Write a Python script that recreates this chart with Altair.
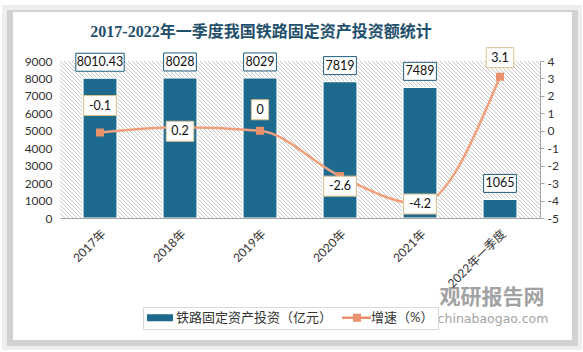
import altair as alt
import pandas as pd

# ---------------- data ----------------
categories = ["2017年", "2018年", "2019年", "2020年", "2021年", "2022年一季度"]
investment = [8010.43, 8028, 8029, 7819, 7489, 1065]          # 亿元
growth = [-0.1, 0.2, 0, -2.6, -4.2, 3.1]                       # %
left_ticks = [0, 1000, 2000, 3000, 4000, 5000, 6000, 7000, 8000, 9000]
right_ticks = [-5, -4, -3, -2, -1, 0, 1, 2, 3, 4]
series_names = ["铁路固定资产投资（亿元）", "增速（%）"]
title_text = "2017-2022年一季度我国铁路固定资产投资额统计"
watermark_cn = "观研报告网"
watermark_en = "chinabaogao.com"

# ---------------- layout / style ----------------
W, H = 480, 157
LEFT_DOMAIN = [0, 9000]
RIGHT_DOMAIN = [-5, 4]
growth_label_nudge = [-27, 4, -21, 10, 0, -19]   # px, label offset from point
BAR = "#1e6a8e"
LINE = "#f0a07c"
MARKER = "#e8916c"
FONT = "Lato, Noto Sans CJK SC, sans-serif"
TXT = "#333333"


def fmt(v):
    return f"{v:g}"


def box_path(text, h):
    w = 5.2 * len(text) + 12
    return f"M{-w/2:.1f},{-h/2}H{w/2:.1f}V{h/2}H{-w/2:.1f}Z"


bar_df = pd.DataFrame({"cat": categories, "value": investment})
bar_df["label"] = [fmt(v) for v in investment]
bar_df["box"] = [box_path(t, 18) for t in bar_df["label"]]

px_per_unit = H / (RIGHT_DOMAIN[1] - RIGHT_DOMAIN[0])
line_df = pd.DataFrame({"cat": categories, "value": growth})
line_df["label"] = [fmt(v) for v in growth]
line_df["label_y"] = [g - n / px_per_unit for g, n in zip(growth, growth_label_nudge)]
line_df["box"] = [box_path(t, 20) for t in line_df["label"]]

one = pd.DataFrame({"d": [0]})

x_enc = alt.X(
    "cat:N", sort=categories,
    scale=alt.Scale(paddingInner=0.575, paddingOuter=0.2875),
    axis=alt.Axis(title=None, labelAngle=-45, ticks=False, domainColor="#a6a6a6",
                  labelFontSize=12, labelPadding=10, labelColor=TXT, labelFont=FONT,
                  grid=False, zindex=1),
)

left_axis = alt.Axis(orient="left", values=left_ticks, title=None, domain=False, ticks=False,
                     grid=False, labelPadding=8, labelFontSize=12, labelColor=TXT, labelFont=FONT,
                     labelExpr="'' + datum.value", zindex=1)
right_axis = alt.Axis(orient="right", values=right_ticks, title=None, domainColor="#a6a6a6",
                      tickColor="#a6a6a6", tickSize=4, grid=False, labelPadding=3,
                      labelFontSize=12, labelColor=TXT, labelFont=FONT,
                      labelExpr="'' + datum.value", zindex=1)
left_scale = alt.Scale(domain=LEFT_DOMAIN, nice=False)
right_scale = alt.Scale(domain=RIGHT_DOMAIN, nice=False)

# ---------------- decoration: card with shadow ----------------
shadow_outer = alt.Chart(one).mark_rect(color="#eeeeee").encode(
    x=alt.value(-58), x2=alt.value(522), y=alt.value(-56), y2=alt.value(289))
shadow_inner = alt.Chart(one).mark_rect(color="#d2d2d2").encode(
    x=alt.value(-53), x2=alt.value(518), y=alt.value(-51), y2=alt.value(285))
card = alt.Chart(one).mark_rect(color="#ffffff").encode(
    x=alt.value(-47), x2=alt.value(512), y=alt.value(-49), y2=alt.value(279))

# hatch in plot area
hatch = alt.Chart(alt.sequence(start=-160, stop=484, step=4, as_="k")).transform_calculate(
    k2=f"datum.k + {H}", y0="0", y1=f"{H}"
).mark_rule(clip=True, color="#c9c9c9", strokeWidth=1).encode(
    x=alt.X("k:Q", scale=None), x2="k2:Q",
    y=alt.Y("y0:Q", scale=None), y2="y1:Q")

# ---------------- bars ----------------
bars = alt.Chart(bar_df).mark_bar(color=BAR, stroke="#ffffff", strokeWidth=1.2).encode(
    x=x_enc, y=alt.Y("value:Q", scale=left_scale, axis=left_axis))
bar_box = alt.Chart(bar_df).mark_point(
    filled=True, fill="#ffffff", stroke="#1f5f7f", strokeWidth=1, size=4, opacity=1, yOffset=-16
).encode(x=x_enc, y=alt.Y("value:Q", scale=left_scale, axis=left_axis),
         shape=alt.Shape("box:N", scale=None))
bar_text = alt.Chart(bar_df).mark_text(
    dy=-16, fontSize=12.5, font=FONT, color="#111111", baseline="middle"
).encode(x=x_enc, y=alt.Y("value:Q", scale=left_scale, axis=left_axis), text="label:N")

title = alt.Chart(pd.DataFrame({"t": [title_text]})).mark_text(
    fontSize=16, fontWeight="bold", font="Liberation Serif, Noto Sans CJK SC", color="#1f4f6b",
    baseline="middle", align="center"
).encode(x=alt.value(201), y=alt.value(-29), text="t:N")

wm1 = alt.Chart(pd.DataFrame({"t": [watermark_cn]})).mark_text(
    fontSize=21, fontWeight="bold", font="Noto Sans CJK SC", color="#8c8c8c", opacity=0.8,
    baseline="middle", align="center"
).encode(x=alt.value(432), y=alt.value(237), text="t:N")
wm2 = alt.Chart(pd.DataFrame({"t": [watermark_en]})).mark_text(
    fontSize=12.5, font="DejaVu Sans", color="#9a9a9a", opacity=0.9,
    baseline="middle", align="center"
).encode(x=alt.value(433), y=alt.value(258), text="t:N")

left_group = alt.layer(shadow_outer, shadow_inner, card, hatch, bars, bar_box, bar_text,
                       title, wm1, wm2)

# ---------------- growth line ----------------
line = alt.Chart(line_df).mark_line(color=LINE, strokeWidth=2.5, interpolate="monotone").encode(
    x=x_enc, y=alt.Y("value:Q", scale=right_scale, axis=right_axis))
pts = alt.Chart(line_df).mark_point(shape="square", filled=True, color=MARKER, size=64, opacity=1).encode(
    x=x_enc, y=alt.Y("value:Q", scale=right_scale, axis=right_axis))
line_box = alt.Chart(line_df).mark_point(
    filled=True, fill="#ffffff", stroke="#dcc08e", strokeWidth=1, size=4, opacity=1
).encode(x=x_enc, y=alt.Y("label_y:Q", scale=right_scale, axis=right_axis),
         shape=alt.Shape("box:N", scale=None))
line_text = alt.Chart(line_df).mark_text(
    fontSize=12.5, font=FONT, color="#111111", baseline="middle"
).encode(x=x_enc, y=alt.Y("label_y:Q", scale=right_scale, axis=right_axis), text="label:N")

right_group = alt.layer(line, pts, line_box, line_text)

# ---------------- legend (dummy layer) ----------------
legend_paths = [
    "M-6.5,-3.5H19.5V3.5H-6.5Z",
    "M-6.5,-1.2H22.5V1.2H-6.5Z M4.5,-4H12.5V4H4.5Z",
]
leg = alt.Legend(orient="none", legendX=83, legendY=246, direction="horizontal", title=None,
                 symbolSize=4, symbolStrokeWidth=0, labelFontSize=13, labelFont=FONT,
                 labelColor=TXT, labelOffset=16, labelLimit=300, columnPadding=9,
                 strokeColor="#d9d9d9", padding=4, symbolOpacity=1)
legend_layer = alt.Chart(pd.DataFrame({"series": series_names})).mark_point(
    filled=True, opacity=1).encode(
    x=alt.value(-3000), y=alt.value(-3000),
    color=alt.Color("series:N", scale=alt.Scale(domain=series_names, range=[BAR, MARKER]), legend=leg),
    shape=alt.Shape("series:N", scale=alt.Scale(domain=series_names, range=legend_paths), legend=leg),
)

chart = alt.layer(left_group, right_group, legend_layer).resolve_scale(
    y="independent", shape="independent", color="independent"
).properties(
    width=W, height=H,
    padding={"left": 60, "top": 61, "right": 43, "bottom": 134},
    autosize=alt.AutoSizeParams(type="none"),
    background="#ffffff",
).configure_view(strokeWidth=0)

chart.save("out.html", embed_options={"renderer": "svg", "actions": False})
